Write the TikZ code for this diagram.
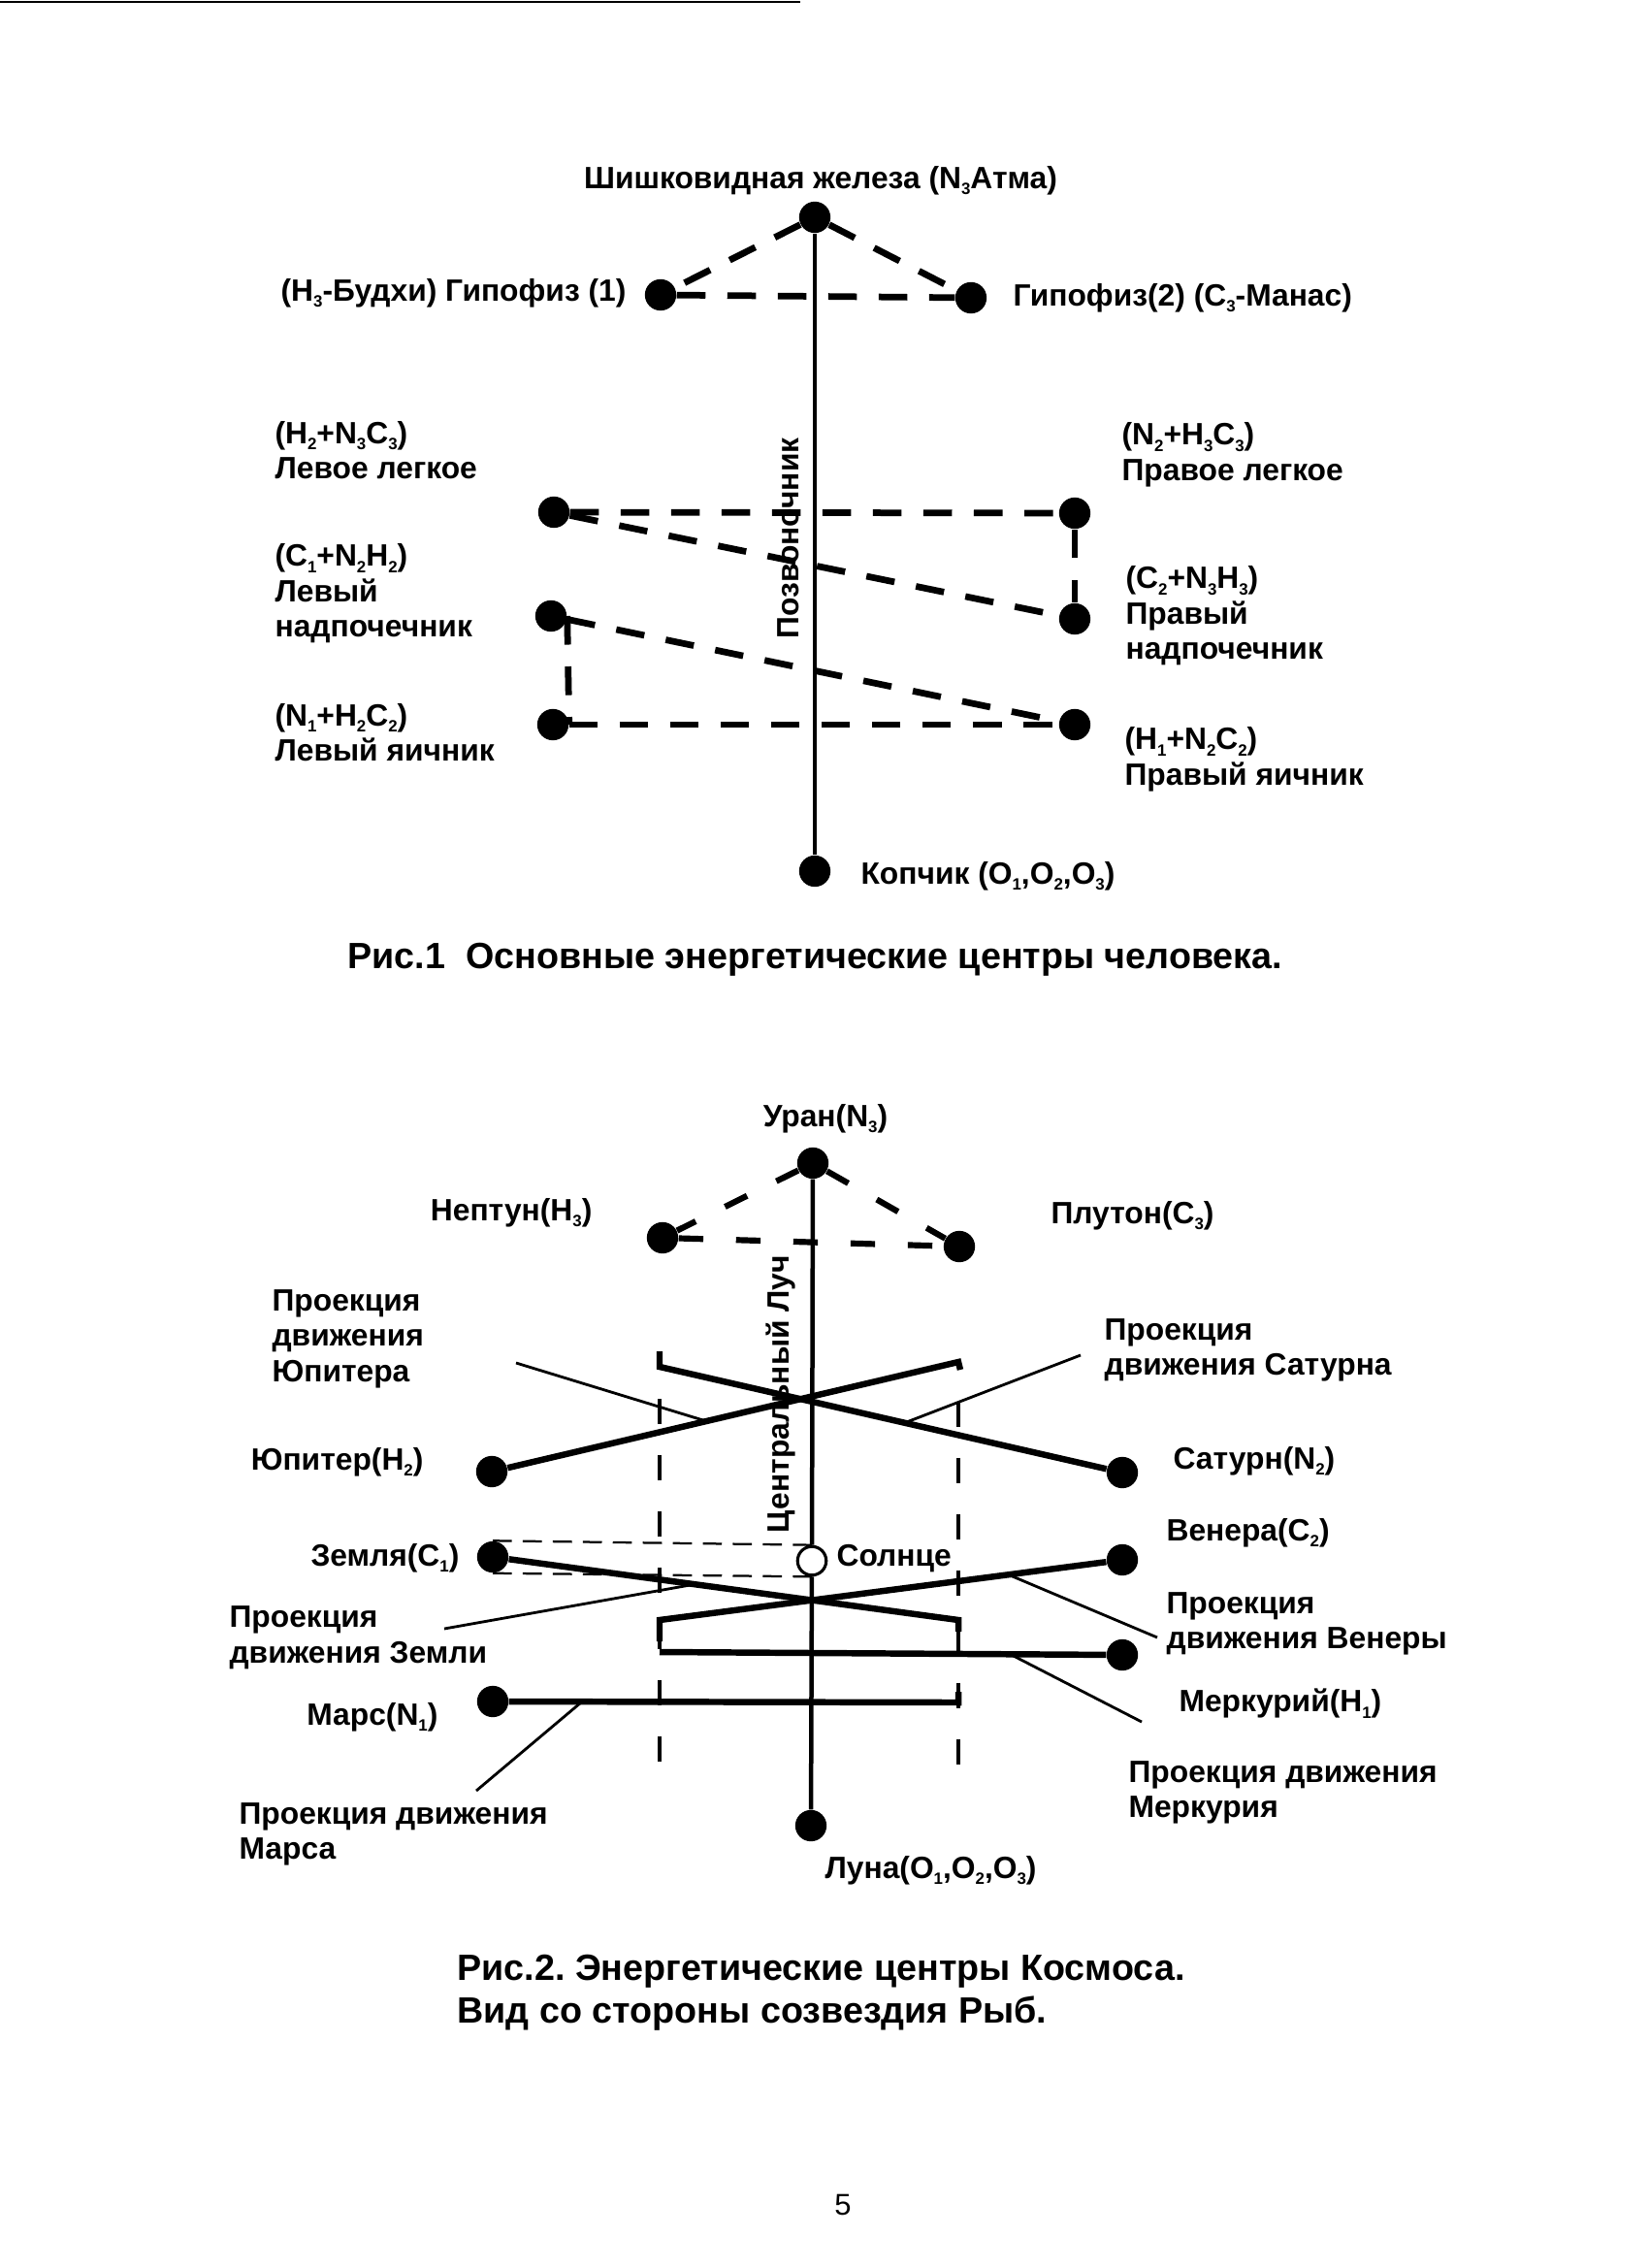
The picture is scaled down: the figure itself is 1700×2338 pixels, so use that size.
\documentclass[tikz,border=0pt]{standalone}
\usepackage{fontspec}
\setmainfont{Liberation Sans}
\usetikzlibrary{positioning}
\frenchspacing

\newcommand{\sbs}[1]{\raisebox{-0.4ex}{\fontsize{6}{7}\selectfont #1}}

\begin{document}
\begin{tikzpicture}[x=0.0125cm, y=-0.0125cm,
  dot/.style={circle, fill=black, inner sep=0pt, minimum size=11.5pt},
  sunnode/.style={circle, draw=black, line width=1.1pt, fill=white, inner sep=0pt, minimum size=10.5pt},
  lbl/.style={font=\fontsize{11.3}{13}\selectfont\bfseries, inner sep=0pt, align=left},
  capt/.style={font=\fontsize{13.4}{15.6}\selectfont\bfseries, inner sep=0pt, align=left},
  glandlink/.style={line width=2.4pt, dash pattern=on 10.5pt off 8pt},
  triolink/.style={line width=2.2pt, dash pattern=on 9pt off 12pt},
  sunlink/.style={line width=0.8pt, dash pattern=on 7pt off 4pt},
  cylinder/.style={line width=1.3pt, dash pattern=on 9.2pt off 11.4pt},
  axis/.style={line width=1.6pt},
  orbit/.style={line width=2.3pt},
  pointer/.style={line width=1pt},
]
\useasboundingbox (0,0) rectangle (1700,2338);
\fill[white] (0,0) rectangle (1700,2338);
\draw[line width=1pt] (0,2) -- (825,2);

% Fig. 1
\node[dot] (pineal) at (840,224) {};
\node[dot] (lhyp)   at (681,304) {};
\node[dot] (rhyp)   at (1001,307) {};
\node[dot] (llung)  at (571,528) {};
\node[dot] (rlung)  at (1108,529) {};
\node[dot] (ladr)   at (568,635) {};
\node[dot] (radr)   at (1108,638) {};
\node[dot] (lovary) at (570,747) {};
\node[dot] (rovary) at (1108,747) {};
\node[dot] (coccyx) at (840,898) {};

\node[lbl] (pinealtxt) at (846,186) {Шишковидная железа (N\sbs{3}Атма)};
\node[lbl, anchor=east] (lhyptxt) at (646,302) {(H\sbs{3}-Будхи) Гипофиз (1)};
\node[lbl, anchor=west] (rhyptxt) at (1044,307) {Гипофиз(2) (C\sbs{3}-Манас)};
\node[lbl, anchor=west] (llungtxt) at (283,464) {(H\sbs{2}+N\sbs{3}C\sbs{3})\\Левое легкое};
\node[lbl, anchor=west] (rlungtxt) at (1156,469) {(N\sbs{2}+H\sbs{3}C\sbs{3})\\Правое легкое};
\node[lbl, anchor=west] (ladrtxt) at (283,612) {(C\sbs{1}+N\sbs{2}H\sbs{2})\\Левый\\надпочечник};
\node[lbl, anchor=west] (radrtxt) at (1160,635) {(C\sbs{2}+N\sbs{3}H\sbs{3})\\Правый\\надпочечник};
\node[lbl, anchor=west] (lovarytxt) at (283,755) {(N\sbs{1}+H\sbs{2}C\sbs{2})\\Левый яичник};
\node[lbl, anchor=west] (rovarytxt) at (1159,783) {(H\sbs{1}+N\sbs{2}C\sbs{2})\\Правый яичник};
\node[lbl, anchor=west] (coccyxtxt) at (887,903) {Копчик (O\sbs{1},O\sbs{2},O\sbs{3})};
\node[lbl, rotate=90] (spinetxt) at (813,555) {Позвоночник};

\draw[axis] (pineal) -- (coccyx);
\draw[glandlink] (pineal) -- (lhyp);
\draw[glandlink] (pineal) -- (rhyp);
\draw[glandlink] (lhyp) -- (rhyp);
\draw[glandlink] (llung) -- (rlung);
\draw[glandlink] (llung) -- (radr);
\draw[glandlink] (rlung) -- (radr);
\draw[glandlink] (ladr) -- (rovary);
\draw[glandlink] (ladr.east) -- (lovary.east);
\draw[glandlink] (lovary) -- (rovary);

\node[capt, anchor=west] (capt1) at (358,989) {Рис.1\ \ Основные энергетические центры человека.};

% Fig. 2
\node[dot] (uranus)  at (838,1199) {};
\node[dot] (neptune) at (683,1276) {};
\node[dot] (pluto)   at (989,1285) {};
\node[dot] (jupiter) at (507,1517) {};
\node[dot] (saturn)  at (1157,1518) {};
\node[dot] (earth)   at (508,1605) {};
\node[sunnode] (sun) at (837,1609) {};
\node[dot] (venus)   at (1157,1608) {};
\node[dot] (mercury) at (1157,1706) {};
\node[dot] (mars)    at (508,1754) {};
\node[dot] (moon)    at (836,1882) {};

\coordinate (jupend) at (988,1404);
\coordinate (satstub) at (680,1393);
\coordinate (satstart) at (680,1409);
\coordinate (earthend) at (988,1670);
\coordinate (venend) at (680,1670);
\coordinate (merend) at (680,1703);
\coordinate (marsend) at (988,1755);

\draw[axis] (uranus) -- (sun);
\draw[axis] (sun) -- (moon);
\draw[triolink] (uranus) -- (neptune);
\draw[triolink] (uranus) -- (pluto);
\draw[triolink] (neptune) -- (pluto);
\draw[sunlink] (earth.north) -- (sun.north);
\draw[sunlink] (earth.south) -- (sun.south);

\draw[cylinder] (680,1442) -- (680,1827);
\draw[cylinder] (988,1445) -- (988,1827);

\draw[orbit] (jupiter) -- (jupend) -- ++(2,8);
\draw[orbit] (satstub) -- (satstart) -- (saturn);
\draw[orbit] (earth) -- (earthend) -- ++(0,12);
\draw[orbit] (venus) -- (venend) -- ++(0,22);
\draw[orbit] (mercury) -- (merend);
\draw[orbit] (mars) -- (marsend) -- ++(0,-11);

\coordinate (jupproj) at (532,1405);
\coordinate (satproj) at (1114,1397);
\coordinate (earthproj) at (458,1679);
\coordinate (venproj) at (1193,1688);
\coordinate (merproj) at (1177,1775);
\coordinate (marsproj) at (491,1846);
\draw[pointer] (jupproj) -- (728,1465);
\draw[pointer] (satproj) -- (932,1467);
\draw[pointer] (earthproj) -- (717,1633);
\draw[pointer] (venproj) -- (1039,1623);
\draw[pointer] (merproj) -- (1039,1704);
\draw[pointer] (marsproj) -- (599,1755);

\node[lbl] (uranustxt) at (851,1153) {Уран(N\sbs{3})};
\node[lbl, anchor=east] (neptunetxt) at (611,1250) {Нептун(H\sbs{3})};
\node[lbl, anchor=west] (plutotxt) at (1083,1253) {Плутон(C\sbs{3})};
\node[lbl, anchor=west] (jupprojtxt) at (280,1380) {Проекция\\движения\\Юпитера};
\node[lbl, anchor=west] (satprojtxt) at (1138,1392) {Проекция\\движения Сатурна};
\node[lbl, anchor=east] (jupitertxt) at (437,1507) {Юпитер(H\sbs{2})};
\node[lbl, anchor=west] (saturntxt) at (1209,1506) {Сатурн(N\sbs{2})};
\node[lbl, anchor=west] (venustxt) at (1202,1580) {Венера(C\sbs{2})};
\node[lbl, anchor=east] (earthtxt) at (474,1606) {Земля(C\sbs{1})};
\node[lbl, anchor=west] (suntxt) at (862,1607) {Солнце};
\node[lbl, anchor=west] (earthprojtxt) at (236,1688) {Проекция\\движения Земли};
\node[lbl, anchor=west] (venprojtxt) at (1202,1674) {Проекция\\движения Венеры};
\node[lbl, anchor=west] (mercurytxt) at (1215,1756) {Меркурий(H\sbs{1})};
\node[lbl, anchor=east] (marstxt) at (452,1770) {Марс(N\sbs{1})};
\node[lbl, anchor=west] (merprojtxt) at (1163,1848) {Проекция движения\\Меркурия};
\node[lbl, anchor=west] (marsprojtxt) at (246,1891) {Проекция движения\\Марса};
\node[lbl, anchor=west] (moontxt) at (850,1928) {Луна(O\sbs{1},O\sbs{2},O\sbs{3})};
\node[lbl, rotate=90] (raytxt) at (805,1437) {Центральный Луч};

\node[capt, anchor=west] (capt2) at (471,2054) {Рис.2. Энергетические центры Космоса.\\Вид со стороны созвездия Рыб.};

\node[font=\fontsize{11}{13}\selectfont] (pagenum) at (869,2273) {5};
\end{tikzpicture}
\end{document}
